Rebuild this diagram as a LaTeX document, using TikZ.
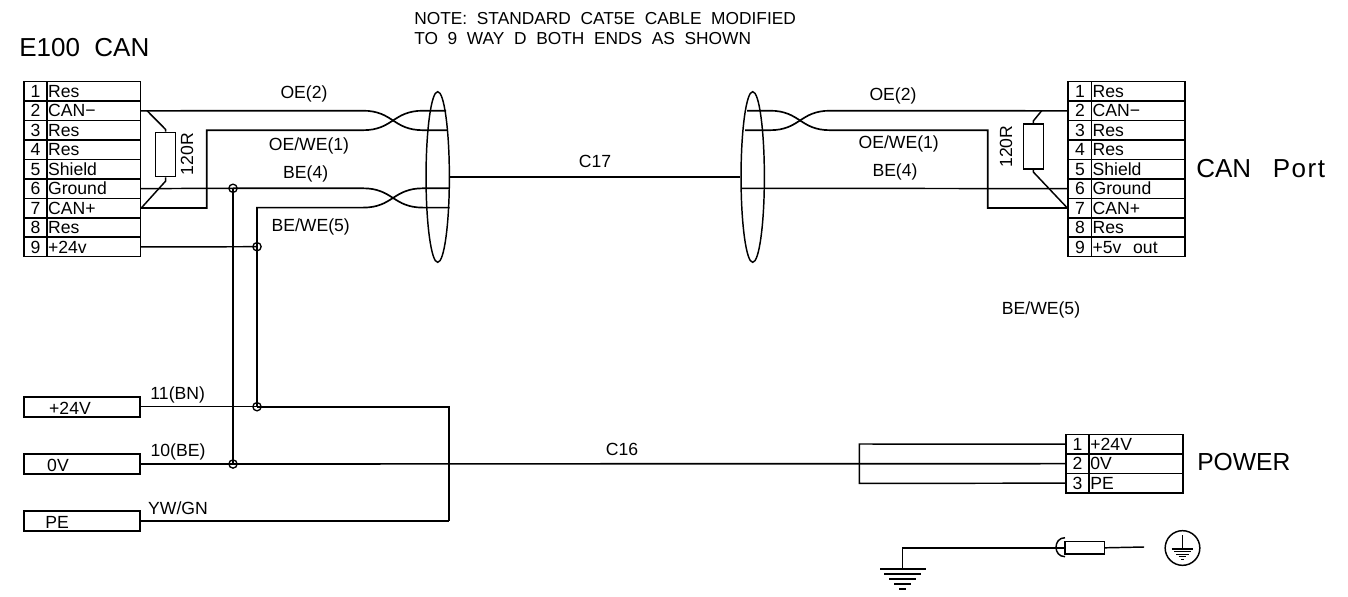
\documentclass[tikz,border=0pt]{standalone}
\usepackage{fontspec}
\setmainfont{Liberation Sans}
\usetikzlibrary{shapes.geometric}
\tikzset{
  wire/.style={line width=1.25pt,line join=miter},
  thinwire/.style={line width=1.1pt},
  cellbox/.style={draw,line width=1.2pt,rectangle,inner sep=0pt,anchor=west,minimum height=14.6pt,text height=9.2pt,text depth=0pt,font=\fontsize{13.2}{15}\selectfont},
  numcell/.style={cellbox,minimum width=17.6pt,align=center},
  namecell/.style={cellbox,minimum width=70pt,text width=68.5pt,align=left},
  lbl/.style={inner sep=0pt,font=\fontsize{13.2}{15}\selectfont},
  biglbl/.style={inner sep=0pt,anchor=west,font=\fontsize{19.5}{22}\selectfont},
  notelbl/.style={inner sep=0pt,anchor=west,font=\fontsize{13}{15}\selectfont},
  junction/.style={circle,draw,line width=1pt,inner sep=0pt,minimum size=6.2pt},
  shield/.style={ellipse,draw,line width=1.1pt,inner sep=0pt,minimum width=17.5pt,minimum height=128pt},
  res/.style={rectangle,draw,line width=1.15pt,inner sep=0pt},
  termbox/.style={rectangle,draw,line width=1.2pt,inner sep=0pt,minimum width=87.3pt,minimum height=15pt,anchor=west},
  gbar/.style={line width=1.2pt},
}
\begin{document}
\begin{tikzpicture}[x=0.75pt,y=-0.75pt]
\useasboundingbox (0,0) rectangle (1348,596);
% titles
\node[biglbl] (title1) at (19,48) {E100\ \ CAN};
\node[notelbl] (note1) at (414,19) {NOTE:\ \ STANDARD\ \ CAT5E\ \ CABLE\ \ MODIFIED};
\node[notelbl] (note2) at (414,39) {TO\ \ 9\ \ WAY\ \ D\ \ BOTH\ \ ENDS\ \ AS\ \ SHOWN};
\node[biglbl] (title2) at (1196,169) {CAN\ \ \ {\addfontfeature{LetterSpace=6}Port}};
\node[biglbl,font=\fontsize{18.5}{22}\selectfont] (title3) at (1197,462) {POWER};
% left connector
\foreach \i/\t in {1/Res,2/CAN−,3/Res,4/Res,5/Shield,6/Ground,7/CAN+,8/Res,9/+24v}{
  \pgfmathsetmacro\yy{81.7+(\i-0.5)*19.44}
  \node[numcell] (Lp\i) at (23,\yy) {\i};
  \node[namecell] (Ln\i) at (46.3,\yy) {\t};
}
% right connector
\foreach \i/\t in {1/Res,2/CAN−,3/Res,4/Res,5/Shield,6/Ground,7/CAN+,8/Res,9/+5v\ \ out}{
  \pgfmathsetmacro\yy{81.7+(\i-0.5)*19.44}
  \node[numcell] (Rp\i) at (1067.4,\yy) {\i};
  \node[namecell] (Rn\i) at (1090.8,\yy) {\t};
}
% power connector
\foreach \i/\t in {1/+24V,2/0V,3/PE}{
  \pgfmathsetmacro\yy{434.4+(\i-0.5)*19.5}
  \node[numcell] (Pp\i) at (1065,\yy) {\i};
  \node[namecell] (Pn\i) at (1088.6,\yy) {\t};
}
% terminal boxes
\node[termbox] (T24) at (23,406.7) {};
\node[termbox] (T0) at (23,464) {};
\node[termbox] (TPE) at (23,521) {};
\node[lbl] (T24t) at (70,408) {+24V};
\node[lbl] (T0t) at (58,465) {0V};
\node[lbl] (TPEt) at (57,522) {PE};
% shields
\node[shield] (S1) at (437.7,177) {};
\node[shield] (S2) at (752.7,177) {};
\draw[wire] (S1.east) -- (S2.west);
\node[lbl] (c17) at (595,161) {C17};
% coordinates
\coordinate (a1) at (363,110.7);
\coordinate (a2) at (363,130.2);
\coordinate (a3) at (363,188.3);
\coordinate (a4) at (363,207.6);
\coordinate (b1) at (423,110.7);
\coordinate (b2) at (423,130.2);
\coordinate (b3) at (423,188.3);
\coordinate (b4) at (423,207.6);
\node[junction] (J1) at (233,188.3) {};
\node[junction] (J2) at (257,246.7) {};
\node[junction] (J3) at (257,406.7) {};
\node[junction] (J4) at (233,464) {};
% left wires
\draw[wire] (Ln2.east) -- (a1) .. controls (393,110.7) and (393,130.2) .. (b2) -- (447,130.2);
\draw[wire] (Ln7.east) -| (206.7,130.2) -- (a2) .. controls (393,130.2) and (393,110.7) .. (b1) -- (446,110.7);
\draw[thinwire] (Ln6.east) -- (J1.center);
\draw[wire] (J1.center) -- (a3) .. controls (393,188.3) and (393,207.6) .. (b4) -- (449.5,207.6);
\draw[wire] (J3.center) -- (257,207.6) -- (a4) .. controls (393,207.6) and (393,188.3) .. (b3) -- (449.5,188.3);
\draw[thinwire] (Ln9.east) -- (J2.center);
\draw[wire] (J1.center) -- (J4.center);
% left resistor
\node[res,minimum width=15pt,minimum height=33.3pt] (R1) at (165.7,154.5) {};
\node[lbl,rotate=90] (R1t) at (187,154) {120R};
\coordinate (R1a) at (147,110.7);
\coordinate (R1b) at (165.7,129.5);
\coordinate (R1c) at (165.7,181);
\draw[thinwire] (R1a) -- (R1b) -- (R1.north);
\draw[thinwire] (R1.south) -- (R1c) -- (Ln7.east);
% right wires
\coordinate (d1) at (830,110.7);
\coordinate (d2) at (830,130.2);
\draw[wire] (747,110.7) -- (770,110.7) .. controls (800,110.7) and (800,130.2) .. (d2) -- (987.7,130.2) |- (Rp7.west);
\draw[wire] (745,130.2) -- (770,130.2) .. controls (800,130.2) and (800,110.7) .. (d1) -- (Rp2.west);
\draw[thinwire] (741,188.3) -- (Rp6.west);
% right resistor
\node[res,minimum width=15pt,minimum height=33.7pt] (R2) at (1033.3,146.5) {};
\node[lbl,rotate=90] (R2t) at (1006,146.7) {120R};
\coordinate (R2a) at (1041.7,110.7);
\coordinate (R2b) at (1033.3,121);
\coordinate (R2c) at (1033.3,172);
\draw[thinwire] (R2a) -- (R2b) -- (R2.north);
\draw[thinwire] (R2.south) -- (R2c) -- (Rp7.west);
% wire labels
\node[lbl] (w1) at (304,94) {OE(2)};
\node[lbl] (w2) at (309,146) {OE/WE(1)};
\node[lbl] (w3) at (305.7,174) {BE(4)};
\node[lbl] (w4) at (310.7,226.7) {BE/WE(5)};
\node[lbl] (w5) at (893,96) {OE(2)};
\node[lbl] (w6) at (898.7,144) {OE/WE(1)};
\node[lbl] (w7) at (895,172) {BE(4)};
\node[lbl] (w8) at (1041,310) {BE/WE(5)};
\node[lbl] (w9) at (622,449) {C16};
\node[lbl] (w10) at (177.7,395) {11(BN)};
\node[lbl] (w11) at (178,451.7) {10(BE)};
\node[lbl] (w12) at (178,508.7) {YW/GN};
% lower wires
\draw[thinwire] (T24.east) -- (J3.center);
\draw[wire] (J3.center) -- (449,406.7) -- (449,521);
\draw[thinwire] (TPE.east) -- (449,521);
\draw[wire] (T0.east) -- (Pp2.west);
\coordinate (P1) at (859.3,444);
\coordinate (P3) at (859.3,483.4);
\draw[thinwire] (Pp1.west) -- (P1) -- (P3) -- (Pp3.west);
% ground
\coordinate (G0) at (902.7,569);
\node[res,minimum width=29.5pt,minimum height=9.2pt] (F1) at (1084.7,547.8) {};
\coordinate (Fend) at (1144,547);
\draw[thinwire] (F1.west) -- ++(-8,0) -| (G0);
\draw[thinwire] (1065,537.7) .. controls (1053,537.7) and (1053,556.7) .. (1065,556.7);
\draw[thinwire] (F1.east) -- (Fend);
\draw[gbar] (880,569) -- (925.6,569);
\draw[gbar] (884.4,574) -- (921,574);
\draw[gbar] (889.3,579) -- (916,579);
\draw[gbar] (894.3,584) -- (911,584);
\draw[gbar] (899.3,589) -- (906,589);
\node[circle,draw,line width=1.1pt,inner sep=0pt,minimum size=26pt] (E1) at (1182.5,548) {};
\draw[thinwire] (1182.5,535) -- (1182.5,548.5);
\draw[line width=1pt] (1171.7,549) -- (1193.3,549);
\draw[line width=1pt] (1174,551.6) -- (1191,551.6);
\draw[line width=1pt] (1176.3,554.2) -- (1188.7,554.2);
\draw[line width=1pt] (1178.6,556.8) -- (1186.4,556.8);
\draw[line width=1pt] (1180.9,559.2) -- (1184.1,559.2);
\end{tikzpicture}
\end{document}
